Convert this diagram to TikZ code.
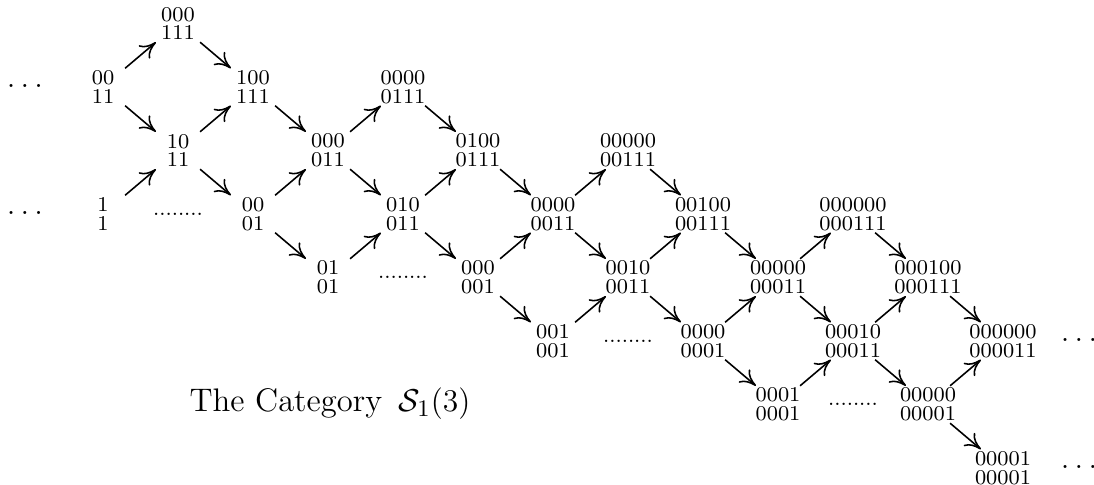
\documentclass[tikz,border=0pt]{standalone}
\usetikzlibrary{arrows.meta}
\tikzset{
  lbl/.style={inner sep=0pt, align=center, font=\fontsize{8}{7.2}\selectfont},
  arr/.style={line width=0.6pt, -{Computer Modern Rightarrow[length=6pt,width=6.5pt,line width=0.6pt]}, shorten <=11pt, shorten >=11pt},
  sdots/.style={inner sep=0pt, font=\fontsize{8}{9}\selectfont},
  bdots/.style={inner sep=0pt, font=\large},
  ttl/.style={inner sep=0pt, anchor=base west, font=\fontsize{12.4}{15}\selectfont},
}
\newcommand\gnode[4]{\node[lbl] (#1) at ({103+75*#2},{23.5+63.5*#3}) {#4};}
\newcommand\gdots[3]{\node[sdots] (#1) at ({103+75*#2},{23.5+63.5*#3}) {........};}
\begin{document}
\begin{tikzpicture}[x=0.38pt,y=-0.38pt]
\useasboundingbox (0,0) rectangle (1094,485);
% nodes
\gnode{c1r0}{1}{0}{000\\111}
\gnode{c0r1}{0}{1}{00\\11}
\gnode{c2r1}{2}{1}{100\\111}
\gnode{c4r1}{4}{1}{0000\\0111}
\gnode{c1r2}{1}{2}{10\\11}
\gnode{c3r2}{3}{2}{000\\011}
\gnode{c5r2}{5}{2}{0100\\0111}
\gnode{c7r2}{7}{2}{00000\\00111}
\gnode{c0r3}{0}{3}{1\\1}
\gdots{d1}{1}{3}
\gnode{c2r3}{2}{3}{00\\01}
\gnode{c4r3}{4}{3}{010\\011}
\gnode{c6r3}{6}{3}{0000\\0011}
\gnode{c8r3}{8}{3}{00100\\00111}
\gnode{c10r3}{10}{3}{000000\\000111}
\gnode{c3r4}{3}{4}{01\\01}
\gdots{d2}{4}{4}
\gnode{c5r4}{5}{4}{000\\001}
\gnode{c7r4}{7}{4}{0010\\0011}
\gnode{c9r4}{9}{4}{00000\\00011}
\gnode{c11r4}{11}{4}{000100\\000111}
\gnode{c6r5}{6}{5}{001\\001}
\gdots{d3}{7}{5}
\gnode{c8r5}{8}{5}{0000\\0001}
\gnode{c10r5}{10}{5}{00010\\00011}
\gnode{c12r5}{12}{5}{000000\\000011}
\gnode{c9r6}{9}{6}{0001\\0001}
\gdots{d4}{10}{6}
\gnode{c11r6}{11}{6}{00000\\00001}
\gnode{c12r7}{12}{7}{00001\\00001}
% ellipses
\node[bdots] (l1) at (25,86) {$\ldots$};
\node[bdots] (l2) at (25,213) {$\ldots$};
\node[bdots] (r1) at (1079,340) {$\ldots$};
\node[bdots] (r2) at (1079,467) {$\ldots$};
% title
\node[ttl] (title) at (189,412) {The Category\, $\mathcal{S}_1(3)$};
% arrows
\foreach \a/\b in {c0r1/c1r0, c1r0/c2r1, c0r1/c1r2, c1r2/c2r1, c0r3/c1r2, c1r2/c2r3,
  c2r1/c3r2, c2r3/c3r2, c3r2/c4r1, c4r1/c5r2, c3r2/c4r3, c4r3/c5r2,
  c2r3/c3r4, c3r4/c4r3, c4r3/c5r4, c5r2/c6r3, c5r4/c6r3, c6r3/c7r2,
  c7r2/c8r3, c6r3/c7r4, c7r4/c8r3, c5r4/c6r5, c6r5/c7r4, c7r4/c8r5,
  c8r3/c9r4, c8r5/c9r4, c9r4/c10r3, c10r3/c11r4, c9r4/c10r5, c10r5/c11r4,
  c8r5/c9r6, c9r6/c10r5, c10r5/c11r6, c11r4/c12r5, c11r6/c12r5, c11r6/c12r7}
  \draw[arr] (\a.center) -- (\b.center);
\end{tikzpicture}
\end{document}
